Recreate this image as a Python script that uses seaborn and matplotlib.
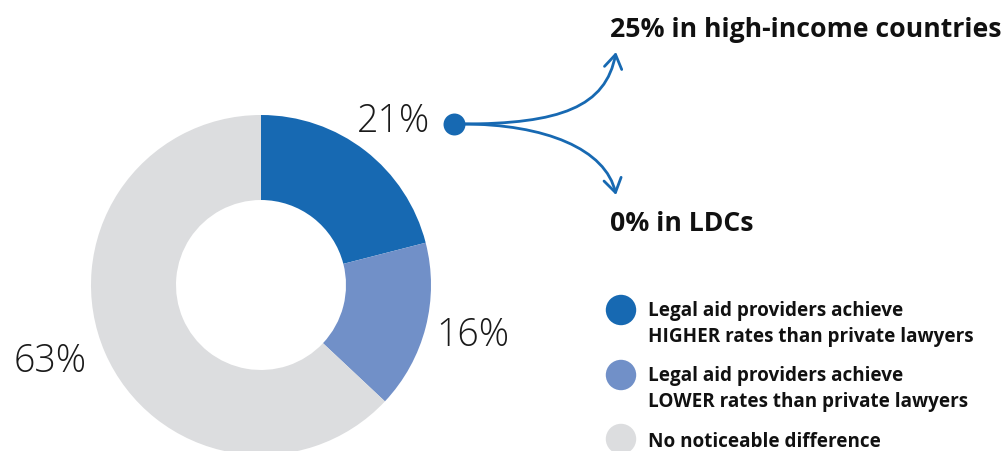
import matplotlib
matplotlib.use("Agg")
import matplotlib.pyplot as plt
from matplotlib.patches import FancyArrowPatch
from matplotlib.path import Path
import seaborn as sns
import pandas as pd

# Shares of countries by how legal aid conviction rates compare with private lawyers
categories = [
    "Legal aid providers achieve\nHIGHER rates than private lawyers",
    "Legal aid providers achieve\nLOWER rates than private lawyers",
    "No noticeable difference",
]
shares = [21, 16, 63]
colors = ["#1769B2", "#7190C8", "#DCDDDF"]
pct_labels = ["21%", "16%", "63%"]

# Breakdown of the "higher" group
breakdown_labels = ["25% in high-income countries", "0% in LDCs"]

sns.set_theme(style="white")
plt.rcParams["font.family"] = ["Open Sans", "DejaVu Sans"]

fig = plt.figure(figsize=(10.04, 4.52), dpi=100)
ax = fig.add_axes([0, 0, 1, 1])

# Donut (y axis runs downward, so angles are mirrored)
cx, cy, R = 261, 286, 170
ax.pie(
    shares, colors=colors, startangle=-90, counterclock=True,
    center=(cx, cy), radius=R, frame=True,
    wedgeprops=dict(width=85, linewidth=0),
)
ax.set_xlim(0, 1004)
ax.set_ylim(452, 0)
ax.set_aspect("equal")
ax.axis("off")

# Percentage labels
label_pos = [(430, 122), (436, 336), (87, 362)]
label_ha = ["right", "left", "right"]
for txt, (x, y), ha in zip(pct_labels, label_pos, label_ha):
    ax.text(x, y, txt, fontsize=27, fontweight="light", color="#1a1a1a",
            ha=ha, va="center")

# Dot and branching arrows
ax.scatter([454], [125], s=250, color=colors[0], zorder=5, linewidths=0)
start = (462, 125)
curves = [
    [start, (560, 125), (606, 108), (616, 53)],
    [start, (545, 125), (606, 150), (616, 196)],
]
for pts in curves:
    path = Path(pts, [Path.MOVETO, Path.CURVE4, Path.CURVE4, Path.CURVE4])
    arr = FancyArrowPatch(path=path, arrowstyle="->,head_length=0.7,head_width=0.45",
                          mutation_scale=14, color=colors[0], linewidth=2)
    ax.add_patch(arr)

ax.text(610, 30, breakdown_labels[0], fontsize=19.2, fontweight="bold",
        color="#111111", ha="left", va="center")
ax.text(610, 224, breakdown_labels[1], fontsize=19.2, fontweight="bold",
        color="#111111", ha="left", va="center")

# Legend
legend_df = pd.DataFrame({"x": [621, 621, 621], "y": [311, 376, 440],
                          "cat": categories})
sns.scatterplot(data=legend_df, x="x", y="y", hue="cat", palette=colors,
                s=480, linewidth=0, legend=False, ax=ax, zorder=5)
text_y = [324, 389, 442]
for cat, y in zip(categories, text_y):
    ax.text(648, y, cat, fontsize=13.6, fontweight="bold", color="#111111",
            ha="left", va="center", linespacing=1.35)

ax.set_xlim(0, 1004)
ax.set_ylim(452, 0)
ax.set_xlabel("")
ax.set_ylabel("")

fig.savefig("out.png", dpi=100)
